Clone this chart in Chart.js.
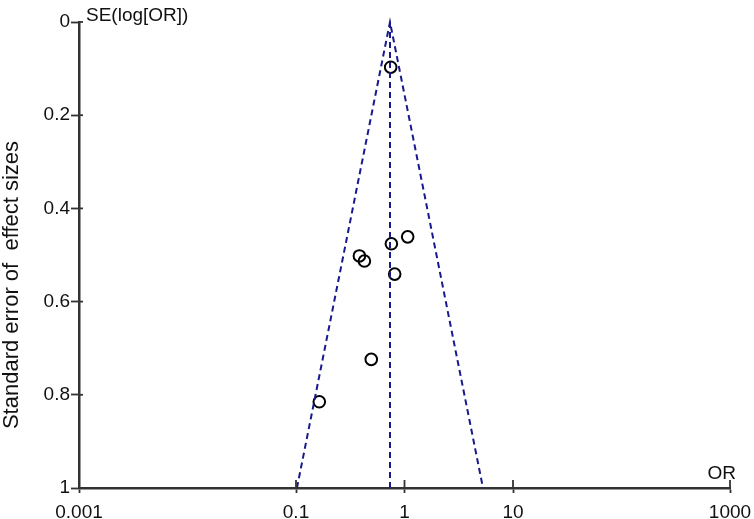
<!DOCTYPE html>
<html>
<head>
<meta charset="utf-8">
<script src="https://cdn.jsdelivr.net/npm/chart.js@4/dist/chart.umd.min.js"></script>
<style>
  html, body { margin: 0; padding: 0; background: #fff; }
  #wrap { width: 754px; height: 519px; }
</style>
</head>
<body>
<div id="wrap"><canvas id="funnel" width="754" height="519"></canvas></div>
<script>
// study estimates
const studyOR = [0.746, 1.07, 0.757, 0.384, 0.427, 0.812, 0.494, 0.164];
const studySE = [0.097, 0.461, 0.476, 0.502, 0.513, 0.541, 0.724, 0.815];

// funnel (pseudo 95% limits) and pooled line
const funnelOR = [0.102, 0.735, 5.29];
const funnelSE = [1, 0, 1];
const pooledOR = [0.735, 0.735];
const pooledSE = [0, 1];

const xTicks = [0.001, 0.1, 1, 10, 1000];
const yTicks = [0, 0.2, 0.4, 0.6, 0.8, 1];

const navy = "#18188f";
const axisCol = "#333333";
const font = "'Liberation Sans', Arial, sans-serif";

const toPts = (xs, ys) => xs.map((x, i) => ({ x: x, y: ys[i] }));

// extra text + inner half of the crossing tick marks
const extras = {
  id: "extras",
  afterDraw(chart) {
    const ctx = chart.ctx;
    const xs = chart.scales.x, ys = chart.scales.y;
    const area = chart.chartArea;
    ctx.save();
    ctx.strokeStyle = axisCol;
    ctx.lineWidth = 1.8;
    xTicks.forEach(v => {
      const px = xs.getPixelForValue(v);
      ctx.beginPath();
      ctx.moveTo(px, area.bottom);
      ctx.lineTo(px, area.bottom - 8);
      ctx.stroke();
    });
    yTicks.forEach(v => {
      const py = ys.getPixelForValue(v);
      ctx.beginPath();
      ctx.moveTo(area.left, py);
      ctx.lineTo(area.left + 4, py);
      ctx.stroke();
    });

    ctx.fillStyle = "#111";
    ctx.font = "19px " + font;
    ctx.textAlign = "left";
    ctx.textBaseline = "alphabetic";
    ctx.fillText("SE(log[OR])", area.left + 7, 21);
    ctx.textAlign = "right";
    ctx.fillText("OR", area.right + 6, 479);

    ctx.font = "22px " + font;
    ctx.translate(12, (area.top + area.bottom) / 2 + 30);
    ctx.rotate(-Math.PI / 2);
    ctx.textAlign = "center";
    ctx.textBaseline = "middle";
    ctx.fillText("Standard error of  effect sizes", 0, 0);
    ctx.restore();
  }
};

new Chart(document.getElementById("funnel"), {
  type: "scatter",
  data: {
    datasets: [
      {
        label: "funnel",
        type: "line",
        data: toPts(funnelOR, funnelSE),
        borderColor: navy,
        borderWidth: 2,
        borderDash: [6, 4],
        pointRadius: 0,
        fill: false,
        tension: 0
      },
      {
        label: "pooled",
        type: "line",
        data: toPts(pooledOR, pooledSE),
        borderColor: navy,
        borderWidth: 2,
        borderDash: [6, 4],
        pointRadius: 0,
        fill: false
      },
      {
        label: "studies",
        data: toPts(studyOR, studySE),
        pointStyle: "circle",
        pointRadius: 5.8,
        pointBorderWidth: 2,
        pointBorderColor: "#000",
        pointBackgroundColor: "rgba(0,0,0,0)"
      }
    ]
  },
  options: {
    responsive: false,
    animation: false,
    clip: false,
    layout: { padding: { left: 0, right: 24, top: 22, bottom: 0 } },
    plugins: { legend: { display: false }, tooltip: { enabled: false } },
    scales: {
      x: {
        type: "logarithmic",
        min: 0.001,
        max: 1000,
        afterBuildTicks: s => { s.ticks = xTicks.map(v => ({ value: v })); },
        afterFit: s => { s.height = 31; s.paddingLeft = 0; s.paddingRight = 0; },
        grid: { drawOnChartArea: false, tickLength: 5, tickColor: axisCol, tickWidth: 1.8 },
        border: { display: true, color: axisCol, width: 2.5 },
        ticks: {
          autoSkip: false,
          maxRotation: 0,
          padding: 8,
          color: "#111",
          font: { family: font, size: 19 },
          callback: v => String(v)
        }
      },
      y: {
        type: "linear",
        reverse: true,
        min: 0,
        max: 1,
        afterBuildTicks: s => { s.ticks = yTicks.map(v => ({ value: v })); },
        afterFit: s => { s.width = 79; s.paddingTop = 0; s.paddingBottom = 0; },
        grid: { drawOnChartArea: false, tickLength: 8, tickColor: axisCol, tickWidth: 1.8 },
        border: { display: true, color: axisCol, width: 2.5 },
        ticks: {
          padding: 1,
          color: "#111",
          font: { family: font, size: 19 },
          callback: v => String(v)
        }
      }
    }
  },
  plugins: [extras]
});
</script>
</body>
</html>
